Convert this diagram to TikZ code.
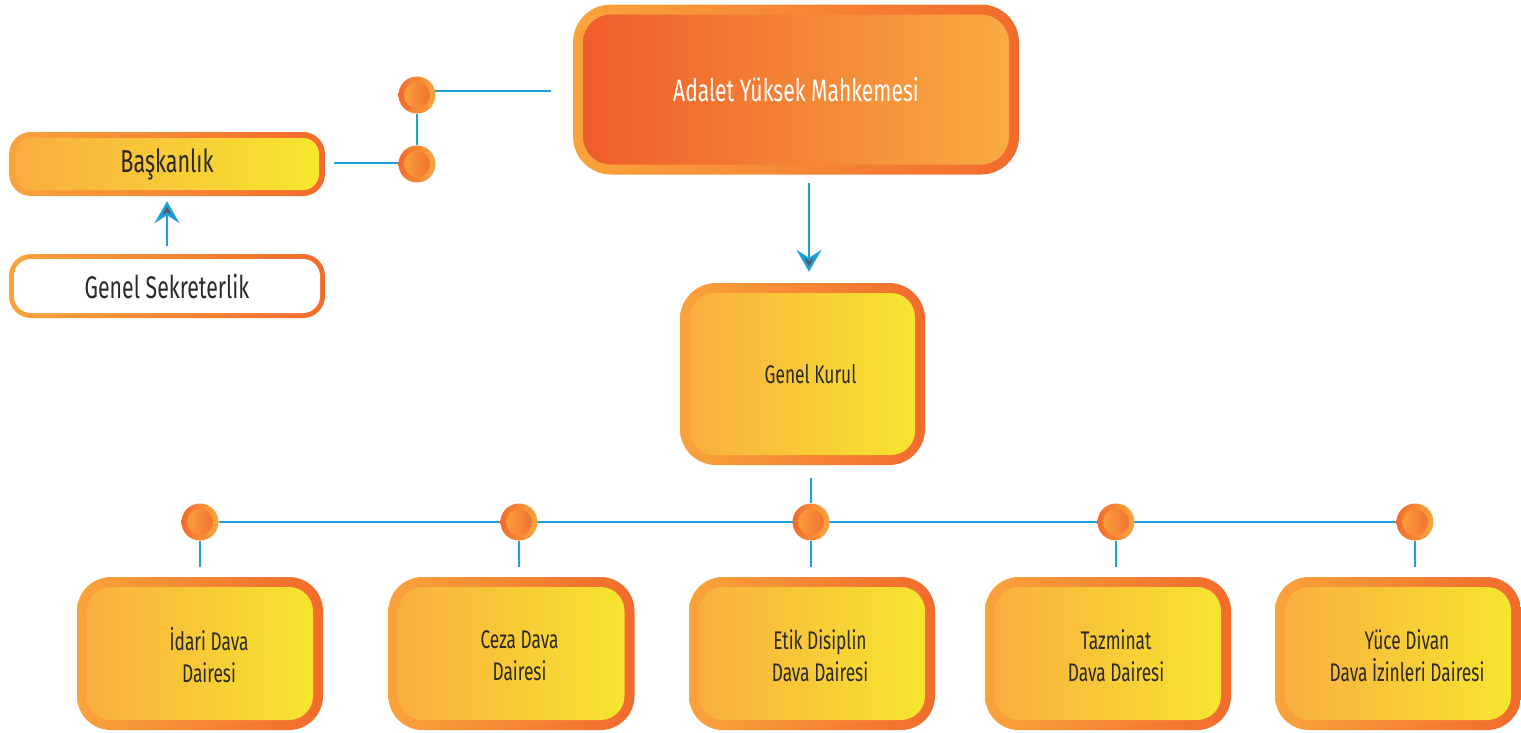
\documentclass[tikz,border=0pt]{standalone}
\usepackage{fontspec}
\setmainfont[FakeStretch=0.68]{Fira Sans}
\usetikzlibrary{arrows.meta}
\definecolor{rimL}{HTML}{F9A33B}
\definecolor{rimR}{HTML}{F26B2D}
\definecolor{topL}{HTML}{EF5A2A}
\definecolor{topR}{HTML}{F9AD42}
\definecolor{yelL}{HTML}{F9AC40}
\definecolor{yelR}{HTML}{F6E82E}
\definecolor{dotdark}{HTML}{F26A2C}
\definecolor{dotlight}{HTML}{FAA73F}
\definecolor{linkblue}{HTML}{1DA1DB}
\definecolor{arrowgray}{HTML}{58595B}
\definecolor{ink}{HTML}{2B2A29}
\pgfdeclarelayer{bg}
\pgfsetlayers{bg,main}
\tikzset{
  card/.style n args={4}{inner sep=0pt, left color=rimL, right color=rimR,
    path picture={\shade[left color=#3, right color=#4, rounded corners=#2]
      ([shift={(#1,#1)}]path picture bounding box.south west) rectangle
      ([shift={(-#1,-#1)}]path picture bounding box.north east);}},
  unitbox/.style={card={10pt}{24pt}{yelL}{yelR}, rounded corners=34pt,
    minimum width=246pt, minimum height=153pt},
  unittext/.style={align=center, text=ink, font=\fontsize{25.5}{32}\selectfont},
  hub/.style={circle, minimum size=37pt, inner sep=0pt, left color=dotdark, right color=dotlight,
    path picture={\shade[left color=dotlight, right color=dotdark]
      (path picture bounding box.center) circle (13pt);}},
  link/.style={draw=linkblue, line width=2.5pt},
  flow/.style={link, -{Stealth[length=22pt, width=25pt, inset=8pt, fill=arrowgray]}}
}
\begin{document}
\begin{tikzpicture}[x=1pt,y=1pt]
\useasboundingbox (0,0) rectangle (1521,-732);
% upper part
\node[card={10pt}{28pt}{topL}{topR}, rounded corners=38pt, minimum width=446pt, minimum height=170pt,
  text=white, font=\fontsize{31}{36}\selectfont] (court) at (796,-89.5) {Adalet Yüksek Mahkemesi};
\node[card={6pt}{16pt}{yelL}{yelR}, rounded corners=22pt, minimum width=316pt, minimum height=64pt,
  text=ink, font=\fontsize{31.7}{36}\selectfont] (pres) at (167,-164) {Başkanlık};
\node[card={5pt}{17pt}{white}{white}, rounded corners=22pt, minimum width=316pt, minimum height=64pt,
  text=ink, font=\fontsize{31.3}{36}\selectfont] (secr) at (167,-286) {Genel Sekreterlik};
\node[hub] (h1) at (417,-95) {};
\node[hub] (h2) at (417,-164) {};
\coordinate (tail) at (551,-91);
\coordinate (presend) at (334,-163);
% genel kurul
\node[unitbox, rounded corners=36pt, minimum width=245pt, minimum height=182pt] (gen) at (802.5,-374) {};
\node[unittext, font=\fontsize{25.5}{32}\selectfont] (gentxt) at ([xshift=8pt]gen.center) {Genel Kurul};
% daireler
\node[hub] (c1) at (200,-522) {};
\node[hub] (c2) at (519,-522) {};
\node[hub] (c3) at (811,-522) {};
\node[hub] (c4) at (1116,-522) {};
\node[hub] (c5) at (1415,-522) {};
\node[unitbox] (idari) at (200,-653.5) {};
\node[unitbox] (ceza) at (511.5,-653.5) {};
\node[unitbox] (etik) at (812,-653.5) {};
\node[unitbox] (tazm) at (1108,-653.5) {};
\node[unitbox] (yuce) at (1398,-653.5) {};
\node[unittext] (idaritxt) at ([shift={(9pt,-2pt)}]idari.center) {İdari Dava\\Dairesi};
\node[unittext] (cezatxt) at ([shift={(8pt,-2pt)}]ceza.center) {Ceza Dava\\Dairesi};
\node[unittext] (etiktxt) at ([shift={(8pt,-2pt)}]etik.center) {Etik Disiplin\\Dava Dairesi};
\node[unittext] (tazmtxt) at ([shift={(8pt,-2pt)}]tazm.center) {Tazminat\\Dava Dairesi};
\node[unittext] (yucetxt) at ([shift={(9pt,-2pt)}]yuce.center) {Yüce Divan\\Dava İzinleri Dairesi};
\begin{pgfonlayer}{bg}
\fill[white] (0,0) rectangle (1521,-732);
\draw[link] (tail -| h1) -- (tail);
\draw[link] (h1) -- (h2);
\draw[link] (presend) -- (presend -| h2);
\draw[flow] ([shift={(13pt,-8pt)}]court.south) -- ([shift={(6.5pt,11pt)}]gen.north);
\draw[flow] ([yshift=8pt]secr.north) -- ([yshift=-5pt]pres.south);
\draw[link] ([shift={(8.5pt,-13pt)}]gen.south) -- (c3);
\draw[link] (c1) -- (c5);
\foreach \c in {c1,c2,c3,c4,c5}
  \draw[link] (\c) -- ++(0,-45);
\end{pgfonlayer}
\end{tikzpicture}
\end{document}
